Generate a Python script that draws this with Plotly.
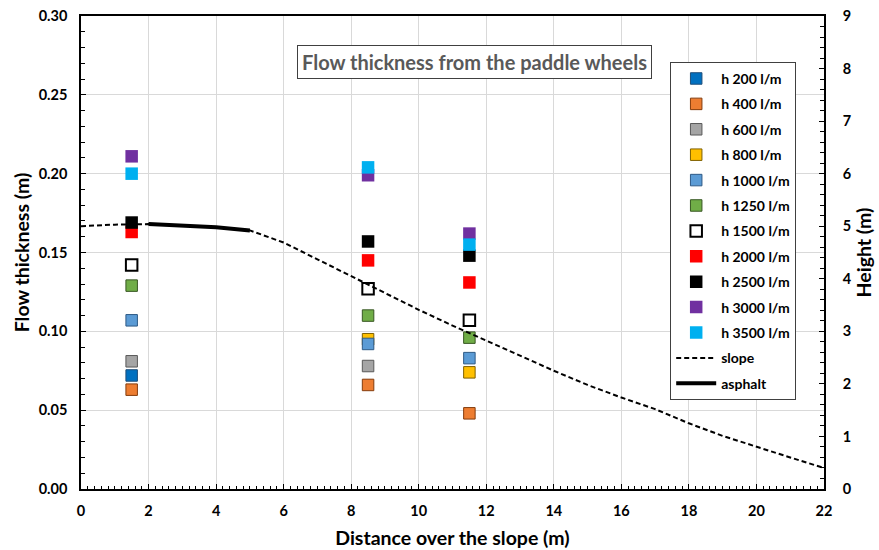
import plotly.graph_objects as go

# ---- data ----
positions = [1.5, 8.5, 11.5]
h200 = [0.072, None, None]
h400 = [0.063, 0.066, 0.048]
h600 = [0.081, 0.078, None]
h800 = [None, 0.095, 0.074]
h1000 = [0.107, 0.092, 0.083]
h1250 = [0.129, 0.110, 0.096]
h1500 = [0.142, 0.127, 0.107]
h2000 = [0.163, 0.145, 0.131]
h2500 = [0.169, 0.157, 0.148]
h3000 = [0.211, 0.199, 0.162]
h3500 = [0.200, 0.204, 0.155]

slope_x = list(range(0, 23))
slope_h = [5.00, 5.03, 5.04, 5.01, 4.98, 4.92, 4.69, 4.37, 4.05, 3.73, 3.41, 3.11,
           2.82, 2.53, 2.25, 1.98, 1.74, 1.52, 1.25, 1.01, 0.80, 0.60, 0.40]
asphalt_x = [2, 4, 5]
asphalt_h = [5.04, 4.98, 4.92]

series_names = ["h 200 l/m", "h 400 l/m", "h 600 l/m", "h 800 l/m", "h 1000 l/m",
                "h 1250 l/m", "h 1500 l/m", "h 2000 l/m", "h 2500 l/m",
                "h 3000 l/m", "h 3500 l/m"]
series_vals = [h200, h400, h600, h800, h1000, h1250, h1500, h2000, h2500, h3000, h3500]
fills = ["#0070C0", "#ED7D31", "#A5A5A5", "#FFC000", "#5B9BD5", "#70AD47",
         "#FFFFFF", "#FF0000", "#000000", "#7030A0", "#00B0F0"]
borders = ["#1F4E79", "#843C0C", "#595959", "#7F6000", "#2E5A86", "#385723",
           "#000000", "#FF0000", "#000000", "#7030A0", "#00B0F0"]
border_w = [1, 1, 1, 1, 1, 1, 2, 0, 0, 0, 0]

FONT = "Lato"

fig = go.Figure()
for i, (nm, vals) in enumerate(zip(series_names, series_vals)):
    fig.add_trace(go.Scatter(
        x=positions, y=vals, mode="markers", name=nm, legendgroup=nm,
        marker=dict(symbol="square", size=11.5 if border_w[i] else 12.5, color=fills[i],
                    line=dict(color=borders[i], width=border_w[i])),
    ))

fig.add_trace(go.Scatter(x=slope_x, y=slope_h, mode="lines", name="slope",
                         legendgroup="slope", yaxis="y2",
                         line=dict(color="black", width=2, dash="5px,3px")))
fig.add_trace(go.Scatter(x=asphalt_x, y=asphalt_h, mode="lines", name="asphalt",
                         legendgroup="asphalt", yaxis="y2",
                         line=dict(color="black", width=4)))

axis_font = dict(family=FONT, size=14.5, color="black", weight="bold")
title_font = dict(family=FONT, size=19.5, color="black", weight="bold")

fig.update_layout(
    width=879, height=550,
    margin=dict(l=81, r=55, t=16, b=61),
    paper_bgcolor="white", plot_bgcolor="white",
    font=dict(family=FONT, color="black"),
    xaxis=dict(range=[0, 22], dtick=2, tick0=0, showgrid=True, gridcolor="#D9D9D9",
               gridwidth=1, zeroline=False, showline=True, linecolor="black",
               linewidth=1.5, mirror=True, ticks="inside", ticklen=5, tickwidth=1,
               tickcolor="black", automargin=False,
               minor=dict(dtick=0.2, ticks="inside", ticklen=3, tickcolor="black",
                          showgrid=False),
               tickfont=axis_font, ticklabelstandoff=8,
               title=dict(text="Distance over the slope (m)", font=title_font, standoff=13)),
    yaxis=dict(range=[0, 0.30], dtick=0.05, tick0=0, tickformat=".2f", showgrid=True,
               gridcolor="#D9D9D9", gridwidth=1, zeroline=False, showline=True,
               linecolor="black", linewidth=1.5, mirror=True, ticks="inside",
               ticklen=5, tickwidth=1, tickcolor="black", automargin=False,
               minor=dict(dtick=0.01, ticks="inside", ticklen=4, tickcolor="black",
                          showgrid=False),
               tickfont=axis_font, ticklabelstandoff=9,
               title=dict(text="Flow thickness (m)", font=title_font, standoff=4)),
    yaxis2=dict(range=[0, 9], dtick=1, tick0=0, overlaying="y", side="right",
                showgrid=False, zeroline=False, showline=True, linecolor="black",
                linewidth=1.5, ticks="inside", ticklen=5, tickwidth=1, tickcolor="black",
                automargin=False,
                minor=dict(dtick=0.2, ticks="inside", ticklen=4, tickcolor="black"),
                tickfont=axis_font, ticklabelstandoff=14,
                title=dict(text="Height (m)", font=title_font, standoff=6)),
    legend=dict(x=0.793, y=0.903, xanchor="left", yanchor="top",
                bordercolor="#404040", borderwidth=1, bgcolor="white",
                font=dict(family=FONT, size=14, color="black", weight="bold"),
                tracegroupgap=4.2, itemwidth=40),
    annotations=[dict(text="Flow thickness from the paddle wheels", xref="paper",
                      yref="paper", x=0.530, y=0.939, showarrow=False,
                      font=dict(family=FONT, size=20, color="#595959", weight="bold"),
                      bordercolor="#404040", borderwidth=1, borderpad=4, bgcolor="white")],
)

fig.write_html("out.html", config={"displayModeBar": False},
               post_script="document.body.style.margin='0';document.body.style.padding='0';")
